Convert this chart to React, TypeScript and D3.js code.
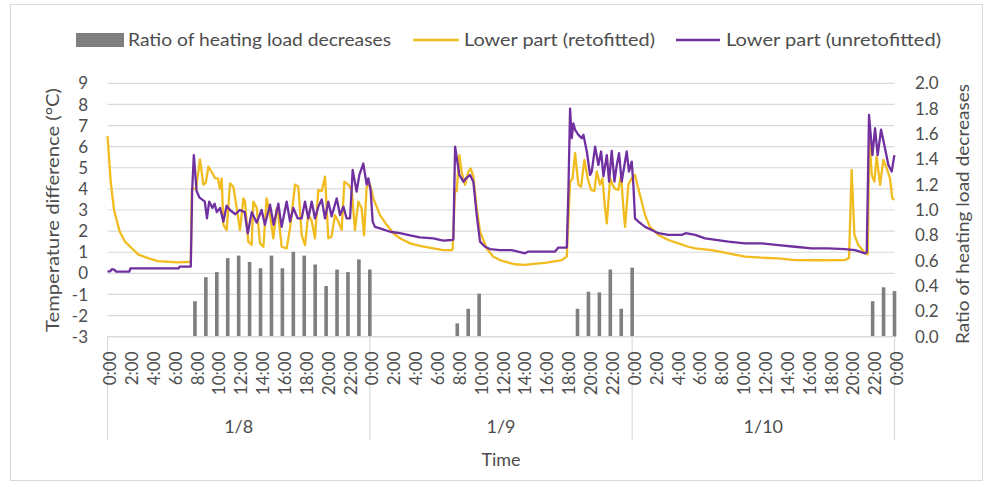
import React from "react";
import * as d3 from "d3";

// ---------- DATA ----------
const DAYS = ["1/8", "1/9", "1/10"];
const HOUR_LABELS = ["0:00", "2:00", "4:00", "6:00", "8:00", "10:00", "12:00", "14:00", "16:00", "18:00", "20:00", "22:00"];
const LEFT_TICKS = [-3, -2, -1, 0, 1, 2, 3, 4, 5, 6, 7, 8, 9];
const RIGHT_TICKS = [0, 0.2, 0.4, 0.6, 0.8, 1.0, 1.2, 1.4, 1.6, 1.8, 2.0];

const LEGEND = ["Ratio of heating load decreases", "Lower part (retofitted)", "Lower part (unretofitted)"];

// Ratio of heating load decreases (hour since 1/8 0:00)
const BAR_HOURS = [8, 9, 10, 11, 12, 13, 14, 15, 16, 17, 18, 19, 20, 21, 22, 23, 24, 32, 33, 34, 43, 44, 45, 46, 47, 48, 70, 71, 72];
const BAR_RATIO = [0.28, 0.47, 0.51, 0.62, 0.64, 0.59, 0.54, 0.64, 0.54, 0.67, 0.64, 0.57, 0.40, 0.53, 0.51, 0.61, 0.53, 0.105, 0.22, 0.34, 0.22, 0.355, 0.35, 0.53, 0.22, 0.545, 0.28, 0.39, 0.36];

// Lower part (retofitted)
const RET_HOURS = [0, 0.3, 0.6, 1.1, 1.6, 2.2, 2.8, 3.7, 4.6, 5.5, 6.5, 7.62, 7.72, 8.1, 8.46, 8.77, 9.0, 9.23, 9.53, 9.84, 10.1, 10.29, 10.45, 10.6, 10.9, 11.21, 11.51, 11.82, 12.12, 12.43, 12.58, 12.88, 13.19, 13.34, 13.65, 13.95, 14.26, 14.56, 14.87, 15.17, 15.48, 15.63, 15.93, 16.39, 16.7, 17.16, 17.46, 17.77, 18.07, 18.37, 18.68, 18.98, 19.29, 19.6, 19.9, 20.2, 20.5, 20.81, 21.12, 21.42, 21.67, 22.03, 22.34, 22.64, 22.95, 23.25, 23.47, 23.71, 24.02, 24.32, 24.93, 25.54, 26.15, 26.76, 27.68, 28.59, 29.81, 30.73, 31.49, 31.58, 31.8, 31.95, 32.19, 32.4, 32.71, 33.01, 33.23, 33.47, 33.78, 34.08, 34.69, 35.3, 35.9, 36.37, 37.29, 38.2, 39.0, 40.03, 41.0, 41.56, 42.02, 42.32, 42.55, 42.78, 43.08, 43.32, 43.63, 43.93, 44.24, 44.54, 44.76, 45.06, 45.28, 45.52, 45.68, 45.98, 46.2, 46.43, 46.74, 46.98, 47.2, 47.35, 47.65, 47.96, 48.26, 48.57, 48.87, 49.18, 49.63, 50.4, 51.31, 52.23, 53.14, 53.76, 55.28, 56.8, 58.32, 59.85, 61.37, 62.9, 65.0, 67.47, 67.84, 68.08, 68.33, 68.69, 69.31, 69.55, 69.7, 69.92, 70.16, 70.37, 70.68, 70.98, 71.29, 71.59, 71.8, 71.99];
const RET_VALUES = [6.5, 4.3, 3.0, 2.0, 1.5, 1.2, 0.9, 0.72, 0.58, 0.55, 0.52, 0.55, 4.0, 4.0, 5.4, 4.2, 4.3, 5.05, 4.8, 4.5, 4.5, 4.0, 4.5, 2.3, 2.05, 4.26, 4.1, 3.1, 2.05, 3.55, 3.4, 1.5, 1.34, 3.4, 3.1, 1.42, 1.26, 3.55, 2.76, 1.66, 3.08, 2.8, 1.26, 1.18, 2.13, 4.2, 4.1, 1.8, 1.34, 2.8, 2.5, 1.66, 3.95, 3.9, 4.58, 1.66, 1.75, 2.76, 2.45, 2.05, 4.34, 4.2, 3.95, 2.05, 3.4, 3.08, 1.8, 4.1, 4.2, 3.55, 2.76, 2.3, 1.9, 1.66, 1.42, 1.3, 1.18, 1.1, 1.1, 1.15, 4.0, 3.9, 5.6, 4.8, 4.2, 4.8, 4.97, 4.58, 3.08, 1.97, 1.18, 0.79, 0.63, 0.55, 0.43, 0.4, 0.45, 0.5, 0.58, 0.63, 0.79, 4.34, 4.5, 5.69, 4.19, 4.1, 5.37, 4.5, 3.95, 3.9, 4.82, 4.2, 4.5, 3.08, 2.37, 4.5, 4.2, 4.0, 3.95, 4.66, 3.08, 2.2, 4.19, 4.5, 4.66, 4.0, 3.4, 2.76, 2.2, 1.82, 1.58, 1.42, 1.26, 1.18, 1.1, 0.95, 0.79, 0.74, 0.71, 0.63, 0.62, 0.63, 0.72, 4.9, 1.82, 1.34, 0.95, 0.9, 6.4, 4.66, 4.34, 5.53, 4.19, 5.37, 4.97, 4.5, 3.55, 3.48];

// Lower part (unretofitted)
const UNRET_HOURS = [0, 0.25, 0.4, 0.6, 0.8, 2.0, 2.1, 6.5, 6.6, 7.62, 7.75, 7.9, 8.15, 8.4, 8.9, 9.1, 9.3, 9.6, 9.8, 10.0, 10.3, 10.6, 10.9, 11.2, 11.7, 12.1, 12.55, 12.83, 13.2, 13.65, 14.1, 14.4, 14.87, 15.2, 15.63, 15.93, 16.39, 16.7, 17.0, 17.4, 17.76, 18.07, 18.37, 18.68, 18.98, 19.29, 19.6, 19.9, 20.2, 20.5, 20.97, 21.27, 21.58, 21.88, 22.19, 22.43, 22.79, 23.04, 23.2, 23.4, 23.71, 23.86, 24.07, 24.26, 24.47, 24.93, 25.85, 26.76, 27.68, 28.59, 29.81, 30.73, 31.49, 31.64, 31.8, 32.19, 32.56, 32.8, 33.17, 33.47, 33.78, 34.08, 34.54, 35.0, 35.9, 36.98, 38.2, 38.5, 40.95, 41.25, 42.02, 42.17, 42.32, 42.47, 42.62, 42.78, 43.08, 43.39, 43.54, 43.85, 44.15, 44.3, 44.61, 44.91, 45.16, 45.37, 45.68, 45.89, 46.13, 46.38, 46.59, 46.8, 47.04, 47.5, 47.71, 47.96, 48.11, 48.26, 48.57, 49.18, 49.79, 50.4, 51.31, 52.54, 52.9, 53.76, 54.67, 56.8, 58.32, 59.85, 61.37, 62.9, 64.42, 65.95, 67.47, 68.39, 69.31, 69.46, 69.67, 69.98, 70.22, 70.46, 70.77, 71.13, 71.44, 71.74, 71.99];
const UNRET_VALUES = [0.08, 0.1, 0.2, 0.18, 0.08, 0.08, 0.24, 0.24, 0.32, 0.32, 4.0, 5.6, 3.9, 3.6, 3.4, 2.6, 3.4, 3.1, 3.3, 2.9, 3.1, 2.45, 3.2, 3.0, 2.8, 3.0, 2.9, 1.9, 2.9, 2.4, 3.0, 2.3, 3.25, 2.3, 3.3, 2.2, 3.4, 2.45, 3.1, 2.6, 2.6, 3.4, 2.6, 3.4, 2.6, 3.16, 3.5, 2.6, 3.4, 2.7, 3.55, 2.76, 3.16, 2.6, 2.6, 4.9, 3.87, 4.66, 4.9, 5.2, 4.2, 4.5, 3.95, 2.45, 2.2, 2.13, 1.97, 1.9, 1.8, 1.7, 1.66, 1.55, 1.58, 1.6, 6.0, 4.66, 4.34, 4.5, 4.66, 4.34, 2.76, 1.5, 1.26, 1.15, 1.1, 1.1, 0.95, 1.03, 1.03, 1.22, 1.22, 4.0, 7.8, 6.4, 7.1, 6.8, 6.56, 6.4, 6.56, 5.77, 4.66, 4.82, 6.0, 5.13, 5.77, 4.6, 5.6, 4.34, 5.8, 4.34, 5.13, 5.69, 4.34, 5.77, 4.82, 5.29, 4.2, 2.6, 2.45, 2.2, 2.05, 1.9, 1.82, 1.82, 1.9, 1.82, 1.66, 1.5, 1.42, 1.42, 1.34, 1.26, 1.18, 1.18, 1.15, 1.1, 0.95, 1.0, 7.5, 5.6, 6.87, 5.6, 6.8, 5.92, 5.13, 4.82, 5.6];

// ---------- STYLE ----------
const W = 990, H = 494;
const X0 = 107.5, X1 = 894.5, YT = 83.3, YB = 336.7;
const FONT = "Lato, 'Open Sans', sans-serif";
const TXT = "#4d4d4d";
const GRID = "#d9d9d9";
const YELLOW = "#F0BC1F";
const PURPLE = "#7030A0";
const GRAY = "#7f7f7f";

export default function App() {
  const x = d3.scaleLinear().domain([0, 72]).range([X0, X1]);
  const yL = d3.scaleLinear().domain([-3, 9]).range([YB, YT]);
  const yR = d3.scaleLinear().domain([0, 2]).range([YB, YT]);
  const dayBand = d3.scaleBand<string>().domain(DAYS).range([X0, X1]);

  const ret = RET_HOURS.map((h, i) => [h, RET_VALUES[i]] as [number, number]);
  const unret = UNRET_HOURS.map((h, i) => [h, UNRET_VALUES[i]] as [number, number]);
  const line = d3.line<[number, number]>().x(d => x(d[0])).y(d => yL(d[1]));

  const ticks: { h: number; label: string }[] = [];
  DAYS.forEach((_, di) => HOUR_LABELS.forEach((lab, li) => ticks.push({ h: di * 24 + li * 2, label: lab })));
  ticks.push({ h: 72, label: HOUR_LABELS[0] });

  return (
    <svg width={W} height={H} style={{ position: "absolute", left: 0, top: 0, background: "#fff" }} fontFamily={FONT}>
      <rect x={0} y={0} width={W} height={H} fill="#fff" />
      <rect x={10.5} y={4.5} width={972} height={476} fill="none" stroke={GRID} strokeWidth={1} />

      {/* gridlines */}
      {LEFT_TICKS.map(t => (
        <line key={"g" + t} x1={X0} x2={X1} y1={yL(t)} y2={yL(t)} stroke={GRID} strokeWidth={1.2} />
      ))}

      {/* left tick labels */}
      {LEFT_TICKS.map(t => (
        <text key={"l" + t} x={88} y={yL(t)} dy="0.36em" textAnchor="end" fontSize={17} fill={TXT}>{t}</text>
      ))}
      {/* right tick labels */}
      {RIGHT_TICKS.map(t => (
        <text key={"r" + t} x={915} y={yR(t)} dy="0.36em" textAnchor="start" fontSize={17} fill={TXT}>{t.toFixed(1)}</text>
      ))}

      {/* bars */}
      {BAR_HOURS.map((h, i) => (
        <rect key={"b" + i} x={x(h) - 1.8} width={3.6} y={yR(BAR_RATIO[i])} height={YB - yR(BAR_RATIO[i])} fill={GRAY} />
      ))}

      {/* lines */}
      <path d={line(ret) || ""} fill="none" stroke={YELLOW} strokeWidth={2.3} strokeLinejoin="round" />
      <path d={line(unret) || ""} fill="none" stroke={PURPLE} strokeWidth={2.3} strokeLinejoin="round" />

      {/* x axis */}
      <line x1={X0} x2={X1} y1={YB} y2={YB} stroke={GRID} strokeWidth={1.2} />
      {[0, 24, 48, 72].map(h => (
        <line key={"s" + h} x1={x(h)} x2={x(h)} y1={YB} y2={440} stroke={GRID} strokeWidth={1.2} />
      ))}
      {ticks.map((t, i) => (
        <text key={"t" + i} transform={`translate(${x(t.h) + 2.5},351.5) rotate(-90)`} dy="0.36em" textAnchor="end" fontSize={17} fill={TXT}>{t.label}</text>
      ))}
      {DAYS.map(d => (
        <text key={d} x={(dayBand(d) || 0) + dayBand.bandwidth() / 2} y={433} textAnchor="middle" fontSize={18} fill={TXT}>{d}</text>
      ))}
      <text x={501} y={466} textAnchor="middle" fontSize={18} fill={TXT}>Time</text>

      {/* axis titles */}
      <text transform="translate(59,210) rotate(-90)" textAnchor="middle" fontSize={18} fill={TXT} textLength={244} lengthAdjust="spacingAndGlyphs">Temperature difference (°C)</text>
      <text transform="translate(969,214) rotate(-90)" textAnchor="middle" fontSize={18} fill={TXT} textLength={260} lengthAdjust="spacingAndGlyphs">{LEGEND[0]}</text>

      {/* legend */}
      <rect x={76} y={33} width={48} height={14} fill={GRAY} />
      <text x={128} y={46} fontSize={17} fill={TXT} textLength={263} lengthAdjust="spacingAndGlyphs">{LEGEND[0]}</text>
      <line x1={413} x2={459} y1={40} y2={40} stroke={YELLOW} strokeWidth={2.3} />
      <text x={464} y={46} fontSize={17} fill={TXT} textLength={191} lengthAdjust="spacingAndGlyphs">{LEGEND[1]}</text>
      <line x1={676} x2={720} y1={40} y2={40} stroke={PURPLE} strokeWidth={2.3} />
      <text x={726} y={46} fontSize={17} fill={TXT} textLength={215} lengthAdjust="spacingAndGlyphs">{LEGEND[2]}</text>
    </svg>
  );
}
